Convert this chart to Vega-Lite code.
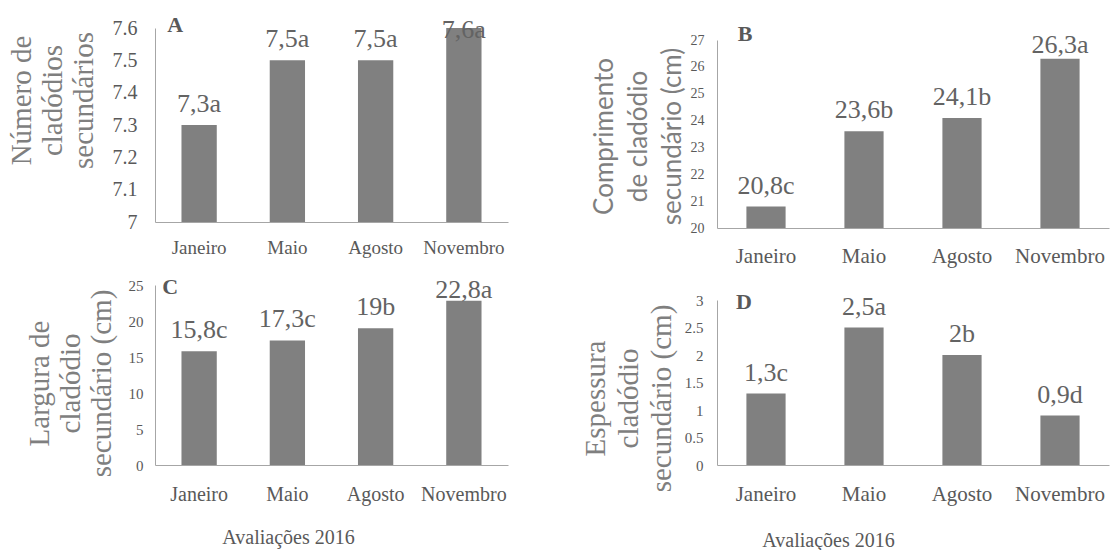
{
  "$schema": "https://vega.github.io/schema/vega-lite/v6.json",
  "width": 1111,
  "height": 550,
  "autosize": "none",
  "padding": 0,
  "background": "white",
  "config": {
    "view": {"stroke": null},
    "font": "Liberation Serif",
    "axis": {
      "grid": false,
      "ticks": false,
      "domainColor": "#a6a6a6",
      "domainWidth": 1,
      "labelColor": "#595959",
      "labelFont": "Liberation Serif",
      "labelFlush": false,
      "labelOverlap": false,
      "titleFont": "Liberation Serif",
      "titleFontWeight": "normal",
      "titleColor": "#7f7f7f"
    }
  },
  "layer": [
    {
      "data": {"values": [
        {"mes": "Janeiro", "valor": 7.3, "rotulo": "7,3a"},
        {"mes": "Maio", "valor": 7.5, "rotulo": "7,5a"},
        {"mes": "Agosto", "valor": 7.5, "rotulo": "7,5a"},
        {"mes": "Novembro", "valor": 7.6, "rotulo": "7,6a"}
      ]},
      "encoding": {
        "x": {"field": "mes", "type": "nominal",
          "scale": {"domain": ["Janeiro", "Maio", "Agosto", "Novembro"], "range": [155, 508], "paddingInner": 0.6, "paddingOuter": 0.3},
          "axis": {"orient": "bottom", "offset": -328, "title": null, "labelAngle": 0, "labelFontSize": 19, "labelPadding": 16}},
        "y": {"field": "valor", "type": "quantitative",
          "scale": {"domain": [7, 7.6], "range": [222, 28], "zero": false, "nice": false},
          "axis": {"orient": "left", "offset": -155, "values": [7, 7.1, 7.2, 7.3, 7.4, 7.5, 7.6], "format": "~g",
            "labelFontSize": 20, "labelPadding": 18,
            "title": ["Número de", "cladódios", "secundários"], "titleFontSize": 29, "titleLineHeight": 31,
            "titleX": -134, "titleY": 100, "titleAngle": -90, "titleAlign": "center", "titleBaseline": "middle"}}
      },
      "layer": [
        {"mark": {"type": "bar", "color": "#808080"}, "encoding": {"y2": {"datum": 7}}},
        {"transform": [{"filter": "datum.mes != 'Novembro'"}],
          "mark": {"type": "text", "baseline": "alphabetic", "dy": -13, "fontSize": 26, "color": "#636363", "font": "Liberation Serif"},
          "encoding": {"text": {"field": "rotulo"}}},
        {"transform": [{"filter": "datum.mes == 'Novembro'"}],
          "mark": {"type": "text", "baseline": "alphabetic", "dy": 10, "fontSize": 26, "color": "#636363", "font": "Liberation Serif"},
          "encoding": {"text": {"field": "rotulo"}}},
        {"transform": [{"filter": "datum.mes == 'Janeiro'"}],
          "mark": {"type": "text", "baseline": "middle", "dx": -24, "dy": -3, "fontSize": 22, "fontWeight": "bold", "color": "#595959", "font": "Liberation Serif"},
          "encoding": {"y": {"datum": 7.6}, "text": {"value": "A"}}}
      ]
    },
    {
      "data": {"values": [
        {"mes": "Janeiro", "valor": 20.8, "rotulo": "20,8c"},
        {"mes": "Maio", "valor": 23.6, "rotulo": "23,6b"},
        {"mes": "Agosto", "valor": 24.1, "rotulo": "24,1b"},
        {"mes": "Novembro", "valor": 26.3, "rotulo": "26,3a"}
      ]},
      "encoding": {
        "x": {"field": "mes", "type": "nominal",
          "scale": {"domain": ["Janeiro", "Maio", "Agosto", "Novembro"], "range": [717, 1109], "paddingInner": 0.6, "paddingOuter": 0.3},
          "axis": {"orient": "bottom", "offset": -322, "title": null, "labelAngle": 0, "labelFontSize": 21, "labelPadding": 17}},
        "y": {"field": "valor", "type": "quantitative",
          "scale": {"domain": [20, 27], "range": [228, 40], "zero": false, "nice": false},
          "axis": {"orient": "left", "offset": -717, "values": [20, 21, 22, 23, 24, 25, 26, 27], "format": "~g",
            "labelFontSize": 14, "labelPadding": 13,
            "title": ["Comprimento", "de cladódio", "secundário (cm)"], "titleFont": "Lato", "titleFontSize": 26, "titleLineHeight": 34,
            "titleX": -113, "titleY": 136, "titleAngle": -90, "titleAlign": "center", "titleBaseline": "middle"}}
      },
      "layer": [
        {"mark": {"type": "bar", "color": "#808080"}, "encoding": {"y2": {"datum": 20}}},
        {"transform": [{"filter": "datum.mes != 'Novembro'"}],
          "mark": {"type": "text", "baseline": "alphabetic", "dy": -13, "fontSize": 26, "color": "#636363", "font": "Liberation Serif"},
          "encoding": {"text": {"field": "rotulo"}}},
        {"transform": [{"filter": "datum.mes == 'Novembro'"}],
          "mark": {"type": "text", "baseline": "alphabetic", "dy": -6, "fontSize": 26, "color": "#636363", "font": "Liberation Serif"},
          "encoding": {"text": {"field": "rotulo"}}},
        {"transform": [{"filter": "datum.mes == 'Janeiro'"}],
          "mark": {"type": "text", "baseline": "middle", "dx": -21, "dy": -6, "fontSize": 22, "fontWeight": "bold", "color": "#595959", "font": "Liberation Serif"},
          "encoding": {"y": {"datum": 27}, "text": {"value": "B"}}}
      ]
    },
    {
      "data": {"values": [
        {"mes": "Janeiro", "valor": 15.8, "rotulo": "15,8c"},
        {"mes": "Maio", "valor": 17.3, "rotulo": "17,3c"},
        {"mes": "Agosto", "valor": 19, "rotulo": "19b"},
        {"mes": "Novembro", "valor": 22.8, "rotulo": "22,8a"}
      ]},
      "encoding": {
        "x": {"field": "mes", "type": "nominal",
          "scale": {"domain": ["Janeiro", "Maio", "Agosto", "Novembro"], "range": [155, 508], "paddingInner": 0.6, "paddingOuter": 0.3},
          "axis": {"orient": "bottom", "offset": -85, "labelAngle": 0, "labelFontSize": 20, "labelPadding": 19,
            "title": "Avaliações 2016", "titleFontSize": 20, "titleColor": "#595959", "titleX": 288, "titleY": 78, "titleBaseline": "alphabetic", "titleAlign": "center"}},
        "y": {"field": "valor", "type": "quantitative",
          "scale": {"domain": [0, 25], "range": [465, 285], "nice": false},
          "axis": {"orient": "left", "offset": -155, "values": [0, 5, 10, 15, 20, 25], "format": "~g",
            "labelFontSize": 15, "labelPadding": 12,
            "title": ["Largura de", "cladódio", "secundário (cm)"], "titleFontSize": 29, "titleLineHeight": 31,
            "titleX": -116, "titleY": 383, "titleAngle": -90, "titleAlign": "center", "titleBaseline": "middle"}}
      },
      "layer": [
        {"mark": {"type": "bar", "color": "#808080"}, "encoding": {"y2": {"datum": 0}}},
        {"transform": [{"filter": "datum.mes != 'Novembro'"}],
          "mark": {"type": "text", "baseline": "alphabetic", "dy": -13, "fontSize": 26, "color": "#636363", "font": "Liberation Serif"},
          "encoding": {"text": {"field": "rotulo"}}},
        {"transform": [{"filter": "datum.mes == 'Novembro'"}],
          "mark": {"type": "text", "baseline": "alphabetic", "dy": -3, "fontSize": 26, "color": "#636363", "font": "Liberation Serif"},
          "encoding": {"text": {"field": "rotulo"}}},
        {"transform": [{"filter": "datum.mes == 'Janeiro'"}],
          "mark": {"type": "text", "baseline": "middle", "dx": -29, "dy": 2, "fontSize": 22, "fontWeight": "bold", "color": "#595959", "font": "Liberation Serif"},
          "encoding": {"y": {"datum": 25}, "text": {"value": "C"}}}
      ]
    },
    {
      "data": {"values": [
        {"mes": "Janeiro", "valor": 1.3, "rotulo": "1,3c"},
        {"mes": "Maio", "valor": 2.5, "rotulo": "2,5a"},
        {"mes": "Agosto", "valor": 2, "rotulo": "2b"},
        {"mes": "Novembro", "valor": 0.9, "rotulo": "0,9d"}
      ]},
      "encoding": {
        "x": {"field": "mes", "type": "nominal",
          "scale": {"domain": ["Janeiro", "Maio", "Agosto", "Novembro"], "range": [717, 1109], "paddingInner": 0.6, "paddingOuter": 0.3},
          "axis": {"orient": "bottom", "offset": -85, "labelAngle": 0, "labelFontSize": 21, "labelPadding": 18,
            "title": "Avaliações 2016", "titleFontSize": 20, "titleColor": "#595959", "titleX": 828, "titleY": 81, "titleBaseline": "alphabetic", "titleAlign": "center"}},
        "y": {"field": "valor", "type": "quantitative",
          "scale": {"domain": [0, 3], "range": [465, 300], "nice": false},
          "axis": {"orient": "left", "offset": -717, "values": [0, 0.5, 1, 1.5, 2, 2.5, 3], "format": "~g",
            "labelFontSize": 15, "labelPadding": 14,
            "title": ["Espessura", "cladódio", "secundário (cm)"], "titleFontSize": 29, "titleLineHeight": 33,
            "titleX": -122, "titleY": 398, "titleAngle": -90, "titleAlign": "center", "titleBaseline": "middle"}}
      },
      "layer": [
        {"mark": {"type": "bar", "color": "#808080"}, "encoding": {"y2": {"datum": 0}}},
        {"mark": {"type": "text", "baseline": "alphabetic", "dy": -13, "fontSize": 26, "color": "#636363", "font": "Liberation Serif"},
          "encoding": {"text": {"field": "rotulo"}}},
        {"transform": [{"filter": "datum.mes == 'Janeiro'"}],
          "mark": {"type": "text", "baseline": "middle", "dx": -22, "dy": 2, "fontSize": 22, "fontWeight": "bold", "color": "#595959", "font": "Liberation Serif"},
          "encoding": {"y": {"datum": 3}, "text": {"value": "D"}}}
      ]
    }
  ],
  "resolve": {"scale": {"x": "independent", "y": "independent"}, "axis": {"x": "independent", "y": "independent"}}
}
